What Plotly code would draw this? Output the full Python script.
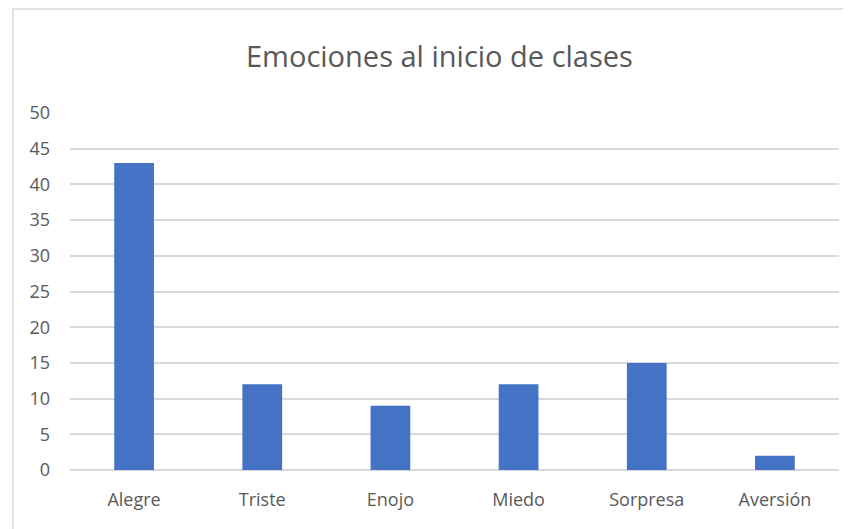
import plotly.graph_objects as go

categories = ["Alegre", "Triste", "Enojo", "Miedo", "Sorpresa", "Aversión"]
values = [43, 12, 9, 12, 15, 2]
y_ticks = [0, 5, 10, 15, 20, 25, 30, 35, 40, 45, 50]

BAR = "#4472C4"
TEXT = "#595959"
GRID = "#d9d9d9"

fig = go.Figure(go.Bar(
    x=categories, y=values,
    marker=dict(color=BAR, line=dict(width=0)),
))

# frame around the chart area (partly cut off on the right and bottom)
fig.add_shape(
    type="rect", xref="paper", yref="paper",
    x0=-0.074, x1=1.2, y0=-0.3, y1=1.291,
    line=dict(color="#e3e3e3", width=2), layer="below",
)

fig.update_layout(
    width=851, height=529,
    margin=dict(l=62, r=20, t=105, b=67, autoexpand=False),
    paper_bgcolor="white", plot_bgcolor="white",
    font=dict(family="Open Sans, Lato, sans-serif", color=TEXT, size=17),
    title=dict(text="Emociones al inicio de clases", x=0.507, xanchor="center",
               y=0.907, yanchor="middle",
               font=dict(size=29, color=TEXT, family="Open Sans, sans-serif")),
    bargap=0.69,
    showlegend=False,
    xaxis=dict(showline=False, ticks="", tickfont=dict(size=18, color=TEXT),
               ticklabelstandoff=17, automargin=False),
    yaxis=dict(range=[0, 50], tickvals=y_ticks, showgrid=True,
               gridcolor=GRID, gridwidth=1.5, zeroline=True,
               zerolinecolor=GRID, zerolinewidth=1.5, showline=False,
               tickfont=dict(size=18, color=TEXT), ticklabelstandoff=19,
               automargin=False),
)

fig.write_html("out.html")
